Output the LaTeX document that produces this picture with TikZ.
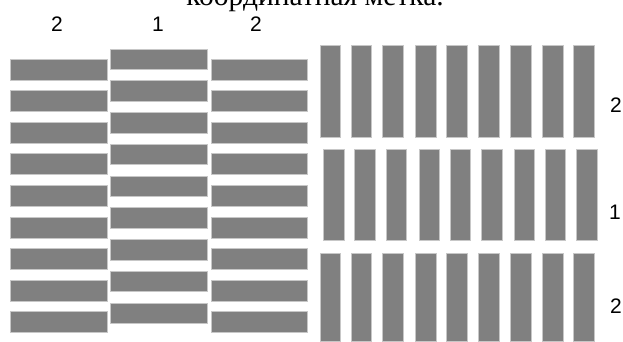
\documentclass[tikz,border=0pt]{standalone}
\usepackage{fontspec}
\setmainfont{Liberation Serif}
\newfontfamily\labfont{Liberation Sans}
\definecolor{barfill}{gray}{0.5}
\definecolor{baredge}{gray}{0.78}
\begin{document}
\begin{tikzpicture}[x=1pt,y=-1pt,
  barbox/.style={fill=barfill,draw=baredge,line width=0.7pt},
  numlabel/.style={font=\labfont\fontsize{21}{25}\selectfont,inner sep=0pt},
  titlelabel/.style={font=\fontsize{29.5}{34}\selectfont,inner sep=0pt,anchor=base}]
\useasboundingbox (0,0) rectangle (623,342);
\clip (0,0) rectangle (623,342);
\fill[white] (0,0) rectangle (623,342);
% title (cut off at top)
\node[titlelabel] (title) at (315,6) {координатная метка.};
% left block: horizontal bars
\foreach \i in {0,...,8} {
  \draw[barbox] (10,{59+31.6*\i}) rectangle ++(97,21);
  \draw[barbox] (110,{49+31.75*\i}) rectangle ++(97,20.5);
  \draw[barbox] (211,{59+31.6*\i}) rectangle ++(96,21);
}
% right block: vertical bars
\foreach \x in {320,351,382.3,415.3,446.7,478.3,510.3,542.7,573.3} {
  \draw[barbox] (\x,45.7) rectangle ++(20.8,91.6);
  \draw[barbox] (\x,253.3) rectangle ++(20.8,88);
}
\foreach \x in {323.3,354.3,386,419,450,481.7,514,545,576.7} {
  \draw[barbox] (\x,149) rectangle ++(20.8,91.7);
}
% labels
\node[numlabel] (tl) at (57,24.5) {2};
\node[numlabel] (tm) at (158,24.5) {1};
\node[numlabel] (tr) at (256,24.5) {2};
\node[numlabel] (rt) at (616,105) {2};
\node[numlabel] (rm) at (615,212) {1};
\node[numlabel] (rb) at (616,306) {2};
\end{tikzpicture}
\end{document}
